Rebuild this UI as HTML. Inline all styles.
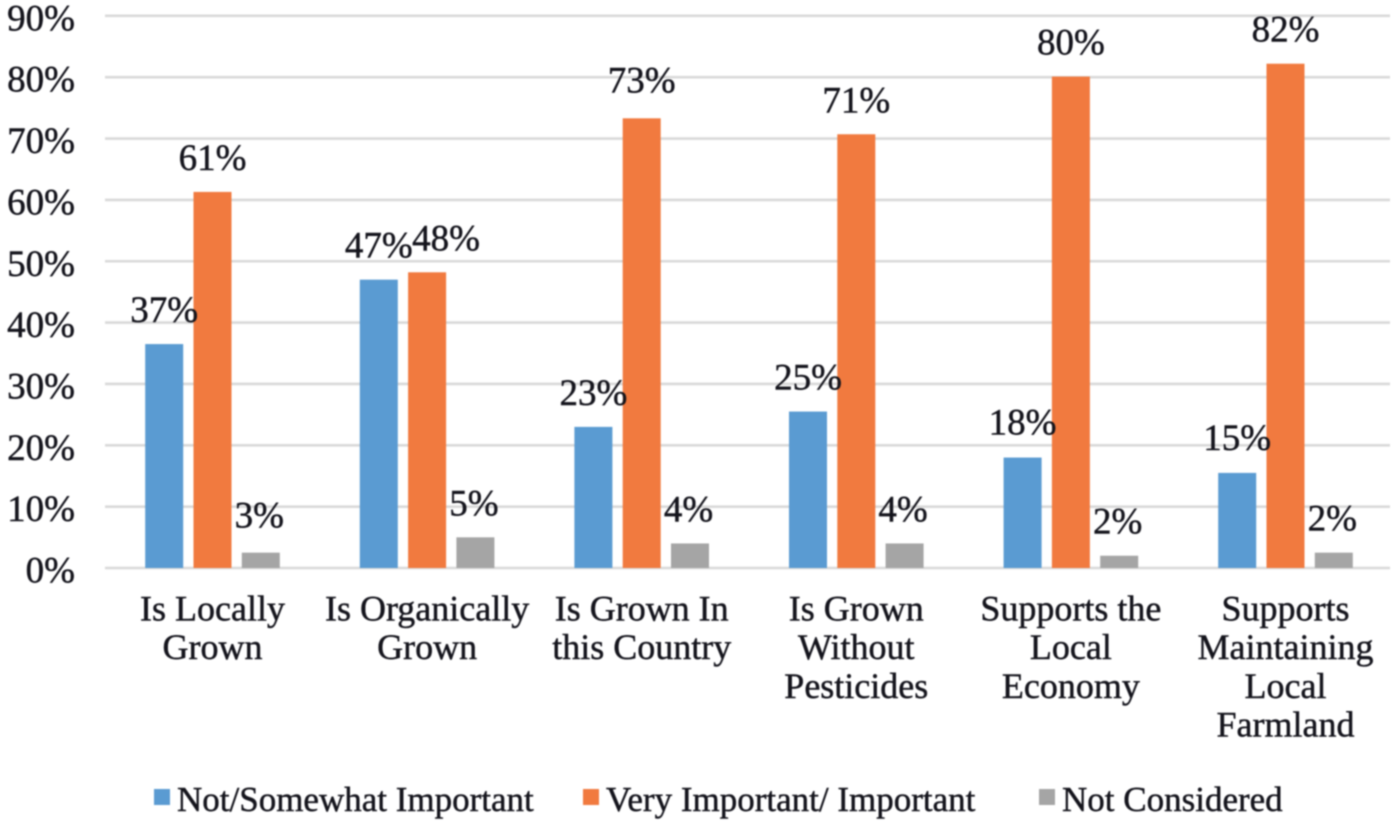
<!DOCTYPE html>
<html lang="en">
<head>
<meta charset="utf-8">
<title>Importance of food attributes</title>
<style>
html,body{margin:0;padding:0;background:#fff;width:1400px;height:826px;overflow:hidden}
svg{display:block;filter:blur(0.8px)}
text{font-family:"Liberation Serif",serif;fill:#14141c;stroke:#14141c;stroke-width:0.45px}
</style>
</head>
<body>
<svg id="chart" width="1400" height="826" viewBox="0 0 1400 826" xmlns="http://www.w3.org/2000/svg">
  <g id="grid"></g>
  <g id="yticks"></g>
  <g id="bars"></g>
  <g id="labels"></g>
  <g id="cats"></g>
  <g id="legend"></g>
</svg>
<script>
const categories = [
  ["Is Locally", "Grown"],
  ["Is Organically", "Grown"],
  ["Is Grown In", "this Country"],
  ["Is Grown", "Without", "Pesticides"],
  ["Supports the", "Local", "Economy"],
  ["Supports", "Maintaining", "Local", "Farmland"]
];
const seriesNames = ["Not/Somewhat Important", "Very Important/ Important", "Not Considered"];
const notImportant = [36.5, 47, 23, 25.5, 18, 15.5];
const veryImportant = [61.3, 48.2, 73.3, 70.7, 80.1, 82.2];
const notConsidered = [2.5, 5, 4, 4, 2, 2.5];
const notImportantLabels = ["37%", "47%", "23%", "25%", "18%", "15%"];
const veryImportantLabels = ["61%", "48%", "73%", "71%", "80%", "82%"];
const notConsideredLabels = ["3%", "5%", "4%", "4%", "2%", "2%"];
const yTicks = [0, 10, 20, 30, 40, 50, 60, 70, 80, 90];

const SVGNS = "http://www.w3.org/2000/svg";
const colors = ["#5a9bd2", "#f17a3f", "#a5a5a5"];
const y0 = 568, pxPerUnit = 6.135;
const groupStart = 212.5, groupStep = 214.6, barOffset = 48.3, barWidth = 38;
const yScale = v => y0 - v * pxPerUnit;
const groupCenter = i => groupStart + groupStep * i;
const barCenter = (i, s) => groupCenter(i) + (s - 1) * barOffset;

function make(tag, attrs, parent, content) {
  const el = document.createElementNS(SVGNS, tag);
  for (const k in attrs) el.setAttribute(k, attrs[k]);
  if (content !== undefined) el.textContent = content;
  parent.appendChild(el);
  return el;
}

const gridG = document.getElementById("grid");
const tickG = document.getElementById("yticks");
yTicks.forEach(t => {
  const line = make("line", {x1: 105, x2: 1390, y1: yScale(t), y2: yScale(t), stroke: "#d9d9d9", "stroke-width": 2.6}, gridG);
  
  
  const label = make("text", {x: 75, y: yScale(t) + 14.5, "text-anchor": "end", "font-size": 37}, tickG, t + "%");
  
  
});

const allValues = [notImportant, veryImportant, notConsidered];
const allLabels = [notImportantLabels, veryImportantLabels, notConsideredLabels];
const barsG = document.getElementById("bars");
const labelsG = document.getElementById("labels");
allValues.forEach((values, s) => {
  values.forEach((v, i) => {
    const top = yScale(v);
    const bar = make("rect", {x: barCenter(i, s) - barWidth / 2, y: top, width: barWidth, height: y0 - top, fill: colors[s]}, barsG);
    
    
    // neighbouring labels at nearly equal height are nudged apart
    const crowded = s === 1 && Math.abs(v - notImportant[i]) < 3;
    const dx = crowded ? 19 : (s === 2 ? -1.5 : 0);
    let dy = 22;
    if (s === 2 && i === 0) dy = 25;
    if (s === 1 && i === 2) dy = 26;
    if (s === 0 && i >= 4) dy = 23;
    const label = make("text", {x: barCenter(i, s) + dx, y: top - dy, "text-anchor": "middle", "font-size": 37}, labelsG, allLabels[s][i]);
    
    
  });
});

const catG = document.getElementById("cats");
categories.forEach((lines, i) => {
  const label = make("text", {"text-anchor": "middle", "font-size": 36}, catG);
  
  
  lines.forEach((line, n) => {
    make("tspan", {x: groupCenter(i), y: 620.5 + n * 38.7}, label, line);
  });
});

const legendG = document.getElementById("legend");
const legendSquareX = [154, 583, 1039];
seriesNames.forEach((name, s) => {
  const swatch = make("rect", {x: legendSquareX[s], y: 789, width: 16, height: 16, fill: colors[s]}, legendG);
  
  
  const label = make("text", {x: legendSquareX[s] + 23, y: 811, "font-size": 35}, legendG, name);
  
  
});
</script>
</body>
</html>
